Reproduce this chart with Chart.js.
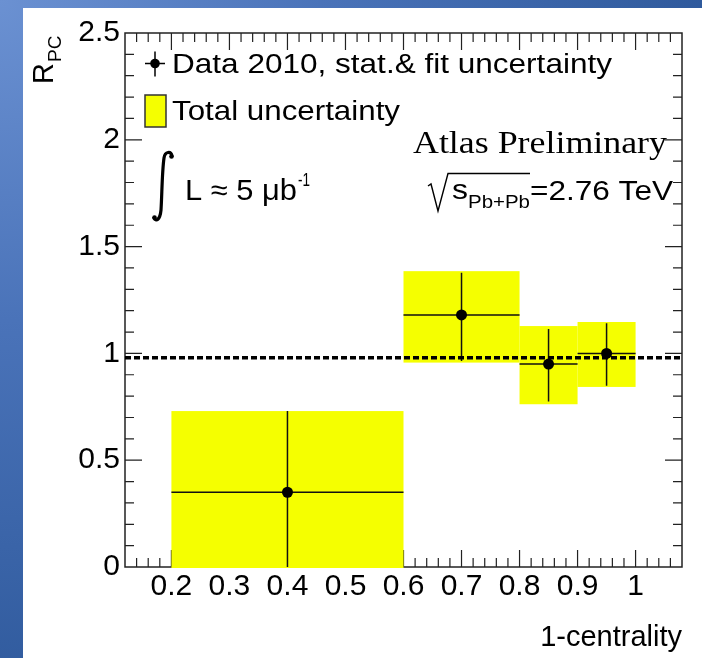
<!DOCTYPE html>
<html>
<head>
<meta charset="utf-8">
<script src="https://cdn.jsdelivr.net/npm/chart.js@4.4.1/dist/chart.umd.min.js"></script>
<style>
html,body{margin:0;padding:0;}
body{width:702px;height:658px;overflow:hidden;position:relative;
  background:radial-gradient(circle at 0 0,#6b91d2 0px,#4a73b9 320px,#2b5698 760px);}
#paper{position:absolute;left:23px;top:8px;right:0;bottom:0;background:#fff;}
#c{position:absolute;left:0;top:0;}
</style>
</head>
<body>
<div id="paper"></div>
<canvas id="c" width="702" height="658"></canvas>
<script>
// bins in 1-centrality
const binLow    = [0.2, 0.6, 0.8, 0.9];
const binHigh   = [0.6, 0.8, 0.9, 1.0];
const binCenter = [0.4, 0.7, 0.85, 0.95];
// R_PC, stat.& fit uncertainty
const rpc      = [0.35, 1.18, 0.95, 1.00];
const statLow  = [0.00, 0.965, 0.775, 0.848];
const statHigh = [0.73, 1.378, 1.114, 1.141];
// total uncertainty
const totLow   = [0.00, 0.957, 0.762, 0.843];
const totHigh  = [0.73, 1.385, 1.128, 1.147];
const refLevel = 0.98;

const xTicks = [0.2, 0.3, 0.4, 0.5, 0.6, 0.7, 0.8, 0.9, 1.0];
const xTickLabels = ['0.2', '0.3', '0.4', '0.5', '0.6', '0.7', '0.8', '0.9', '1'];
const yTicks = [0, 0.5, 1, 1.5, 2, 2.5];
const yTickLabels = ['0', '0.5', '1', '1.5', '2', '2.5'];

const SANS = '"Liberation Sans", Arial, sans-serif';
const SERIF = '"Liberation Serif", "Times New Roman", serif';

function fitText(ctx, text, x, y, font, width) {
  ctx.font = font;
  const w = ctx.measureText(text).width;
  ctx.save();
  ctx.translate(x, y);
  ctx.scale(width / w, 1);
  ctx.fillText(text, 0, 0);
  ctx.restore();
}

const rootStyle = {
  id: 'rootStyle',
  beforeDatasetsDraw(chart) {
    const {ctx, chartArea: a, scales: {x, y}} = chart;
    ctx.save();
    // frame + inner ticks
    ctx.strokeStyle = '#222';
    ctx.lineWidth = 1.5;
    ctx.strokeRect(a.left, a.top, a.right - a.left, a.bottom - a.top);
    ctx.lineWidth = 1.2;
    ctx.beginPath();
    for (let k = 7; k <= 53; k++) {
      const px = x.getPixelForValue(k * 0.02);
      const len = k % 5 === 0 ? 17 : 9;
      ctx.moveTo(px, a.bottom); ctx.lineTo(px, a.bottom - len);
      ctx.moveTo(px, a.top); ctx.lineTo(px, a.top + len);
    }
    for (let k = 1; k <= 24; k++) {
      const py = y.getPixelForValue(k * 0.1);
      const len = k % 5 === 0 ? 17 : 9;
      ctx.moveTo(a.left, py); ctx.lineTo(a.left + len, py);
      ctx.moveTo(a.right, py); ctx.lineTo(a.right - len, py);
    }
    ctx.stroke();

    // total uncertainty boxes
    ctx.fillStyle = '#f5ff00';
    binLow.forEach((lo, i) => {
      const x0 = x.getPixelForValue(lo), x1 = x.getPixelForValue(binHigh[i]);
      const y0 = y.getPixelForValue(totHigh[i]), y1 = y.getPixelForValue(totLow[i]);
      ctx.fillRect(x0, y0, x1 - x0, y1 - y0 + (totLow[i] <= 0 ? 1 : 0));
    });

    // stat error bars
    ctx.strokeStyle = '#111';
    ctx.lineWidth = 1.5;
    ctx.beginPath();
    binCenter.forEach((c, i) => {
      const px = x.getPixelForValue(c), py = y.getPixelForValue(rpc[i]);
      ctx.moveTo(px, y.getPixelForValue(statHigh[i]));
      ctx.lineTo(px, y.getPixelForValue(statLow[i]));
      ctx.moveTo(x.getPixelForValue(binLow[i]), py);
      ctx.lineTo(x.getPixelForValue(binHigh[i]), py);
    });
    ctx.stroke();
    ctx.restore();
  },
  afterDraw(chart) {
    const {ctx} = chart;
    ctx.save();
    ctx.fillStyle = '#000';
    ctx.strokeStyle = '#000';
    ctx.textBaseline = 'alphabetic';
    ctx.textAlign = 'left';

    // y title R_PC
    ctx.save();
    ctx.translate(53, 84);
    ctx.rotate(-Math.PI / 2);
    ctx.font = '29px ' + SANS;
    ctx.fillText('R', 0, 0);
    ctx.font = '19px ' + SANS;
    ctx.fillText('PC', 22, 8);
    ctx.restore();

    // legend
    ctx.lineWidth = 1.5;
    ctx.beginPath();
    ctx.moveTo(145, 63.5); ctx.lineTo(165, 63.5);
    ctx.moveTo(155, 51.5); ctx.lineTo(155, 76.5);
    ctx.stroke();
    ctx.beginPath();
    ctx.arc(155, 63.5, 4.8, 0, Math.PI * 2);
    ctx.fill();
    fitText(ctx, 'Data 2010, stat.& fit uncertainty', 172, 73, '27.5px ' + SANS, 440);
    ctx.fillStyle = '#f5ff00';
    ctx.fillRect(145, 95, 21, 32);
    ctx.strokeStyle = '#333';
    ctx.strokeRect(145, 95, 21, 32);
    ctx.fillStyle = '#000';
    fitText(ctx, 'Total uncertainty', 172, 120, '27.5px ' + SANS, 228);

    // integral L
    ctx.strokeStyle = '#000';
    ctx.lineWidth = 3.2;
    ctx.lineCap = 'round';
    ctx.beginPath();
    ctx.moveTo(172, 156);
    ctx.bezierCurveTo(171, 151, 165, 151, 164, 158);
    ctx.bezierCurveTo(162, 172, 162, 195, 161, 210);
    ctx.bezierCurveTo(160, 220, 156, 222, 154, 218);
    ctx.stroke();
    ctx.beginPath(); ctx.arc(171.5, 156.5, 2.3, 0, Math.PI * 2); ctx.fill();
    ctx.beginPath(); ctx.arc(154.5, 217.5, 2.3, 0, Math.PI * 2); ctx.fill();
    fitText(ctx, 'L \u2248 5 \u03bcb', 185, 200, '29px ' + SANS, 112);
    fitText(ctx, '-1', 298, 186, '18px ' + SANS, 12);

    // Atlas Preliminary
    fitText(ctx, 'Atlas Preliminary', 413, 153, '31px ' + SERIF, 254);

    // sqrt(s_Pb+Pb) = 2.76 TeV
    ctx.lineWidth = 1.4;
    ctx.lineCap = 'butt';
    ctx.beginPath();
    ctx.moveTo(428, 186); ctx.lineTo(431, 184);
    ctx.lineTo(438, 211); ctx.lineTo(448, 173.5); ctx.lineTo(530, 173.5);
    ctx.stroke();
    fitText(ctx, 's', 452, 199, '28px ' + SANS, 16);
    fitText(ctx, 'Pb+Pb', 468, 208, '19px ' + SANS, 62);
    fitText(ctx, '=2.76 TeV', 530, 200, '28px ' + SANS, 143);
    ctx.restore();
  }
};

new Chart(document.getElementById('c'), {
  type: 'scatter',
  data: {
    datasets: [
      {
        label: 'Data 2010',
        data: binCenter.map((c, i) => ({x: c, y: rpc[i]})),
        pointRadius: 5.5,
        pointBackgroundColor: '#000',
        pointBorderWidth: 0,
        showLine: false,
        order: 0
      },
      {
        type: 'line',
        label: 'reference',
        data: [{x: 0.12, y: refLevel}, {x: 1.08, y: refLevel}],
        borderColor: '#000',
        borderWidth: 3.5,
        borderDash: [6, 3],
        pointRadius: 0,
        order: 1
      }
    ]
  },
  options: {
    responsive: false,
    devicePixelRatio: 1,
    animation: false,
    layout: {padding: {top: 33, right: 20, left: 0, bottom: 0}},
    plugins: {legend: {display: false}, tooltip: {enabled: false}},
    scales: {
      x: {
        type: 'linear',
        min: 0.12,
        max: 1.08,
        afterBuildTicks: s => { s.ticks = xTicks.map(v => ({value: v})); },
        afterFit: s => { s.height = 91; },
        grid: {display: false, drawTicks: false},
        border: {display: false},
        ticks: {
          color: '#000',
          font: {family: SANS, size: 30},
          padding: 2,
          maxRotation: 0,
          autoSkip: false,
          callback: (v, i) => xTickLabels[i]
        },
        title: {
          display: true,
          text: '1-centrality',
          align: 'end',
          color: '#000',
          font: {family: SANS, size: 29},
          padding: {top: 0, bottom: 3}
        }
      },
      y: {
        min: 0,
        max: 2.5,
        afterBuildTicks: s => { s.ticks = yTicks.map(v => ({value: v})); },
        afterFit: s => { s.width = 125; },
        grid: {display: false, drawTicks: false},
        border: {display: false},
        ticks: {
          color: '#000',
          font: {family: SANS, size: 30},
          padding: 5,
          autoSkip: false,
          callback: (v, i) => yTickLabels[i]
        }
      }
    }
  },
  plugins: [rootStyle]
});
</script>
</body>
</html>
